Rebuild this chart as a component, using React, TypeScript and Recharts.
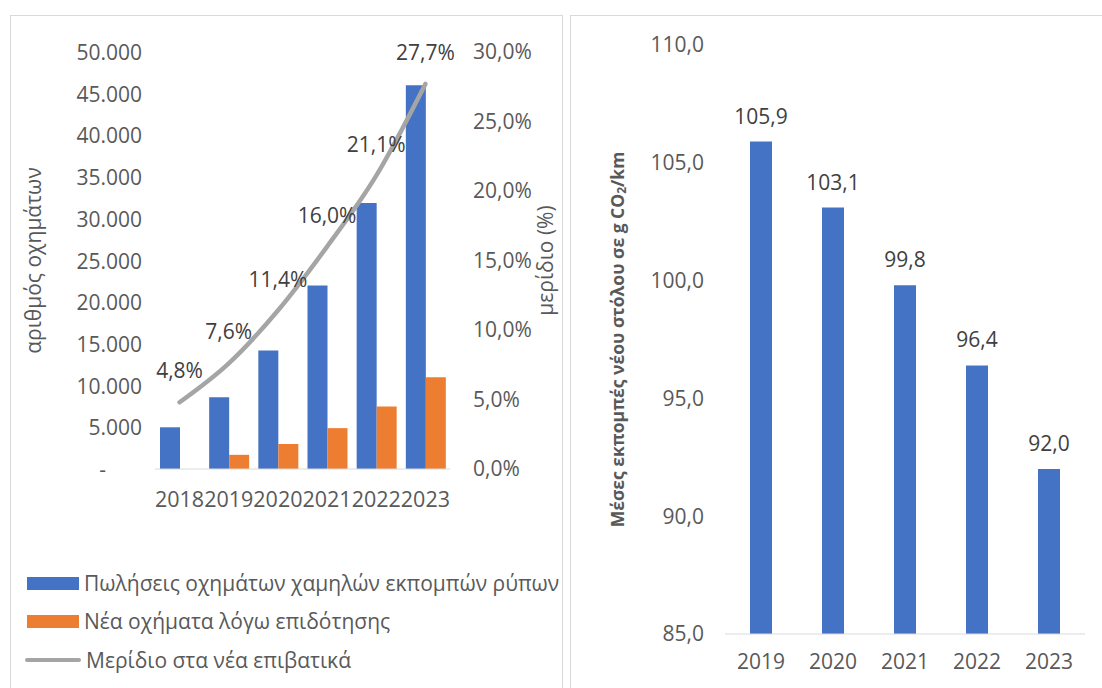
import React from 'react';
import {
  ComposedChart,
  BarChart,
  Bar,
  Line,
  XAxis,
  YAxis,
  LabelList,
} from 'recharts';

// left panel: low-emission vehicle sales + share of new passenger cars
const years = ['2018', '2019', '2020', '2021', '2022', '2023'];
const lowEmissionSales = [5000, 8600, 14200, 22000, 31900, 46000];
const subsidyVehicles = [0, 1700, 3000, 4900, 7500, 11000];
const sharePct = [4.8, 7.6, 11.4, 16.0, 21.1, 27.7];
const countTicks = [0, 5000, 10000, 15000, 20000, 25000, 30000, 35000, 40000, 45000, 50000];
const shareTicks = [0, 5, 10, 15, 20, 25, 30];

// right panel: average CO2 emissions of the new fleet
const emissionYears = ['2019', '2020', '2021', '2022', '2023'];
const avgEmissions = [105.9, 103.1, 99.8, 96.4, 92.0];
const emissionTicks = [85, 90, 95, 100, 105, 110];

const BLUE = '#4472C4';
const ORANGE = '#ED7D31';
const GRAY = '#A5A5A5';
const AXIS_TEXT = '#595959';
const LABEL_TEXT = '#404040';
const FONT = '"Open Sans", "Noto Sans", sans-serif';

const salesData = years.map((year, i) => ({
  year,
  sales: lowEmissionSales[i],
  subsidy: subsidyVehicles[i],
  share: sharePct[i],
}));

const emissionData = emissionYears.map((year, i) => ({ year, value: avgEmissions[i] }));

const fmtCount = (v: number) => String(v).replace(/\B(?=(\d{3})+(?!\d))/g, '.');
const fmtOneDec = (v: number) => Number(v).toFixed(1).replace('.', ',');
const fmtPct = (v: number) => fmtOneDec(v) + '%';

function CountTick(props: any) {
  const { x, y, payload } = props;
  const zero = payload.value === 0;
  return (
    <text
      x={zero ? x - 36 : x}
      y={y}
      textAnchor="end"
      dominantBaseline="central"
      fill={AXIS_TEXT}
      fontSize={21}
    >
      {zero ? '-' : fmtCount(payload.value)}
    </text>
  );
}

function AxisTitle(props: any) {
  const { viewBox, offsetX, fontSize = 21, bold = false, children } = props;
  const cx = viewBox.x + offsetX;
  const cy = viewBox.y + viewBox.height / 2;
  return (
    <text
      x={cx}
      y={cy}
      transform={`rotate(-90 ${cx} ${cy})`}
      textAnchor="middle"
      dominantBaseline="central"
      fill={AXIS_TEXT}
      fontSize={fontSize}
      fontWeight={bold ? 'bold' : 'normal'}
    >
      {children}
    </text>
  );
}

const legendItems = [
  { label: 'Πωλήσεις οχημάτων χαμηλών εκπομπών ρύπων', color: BLUE, kind: 'bar', top: 571 },
  { label: 'Νέα οχήματα λόγω επιδότησης', color: ORANGE, kind: 'bar', top: 609 },
  { label: 'Μερίδιο στα νέα επιβατικά', color: GRAY, kind: 'line', top: 648 },
];

const panelStyle: React.CSSProperties = {
  position: 'absolute',
  top: 15,
  border: '1px solid #D9D9D9',
  boxSizing: 'border-box',
  background: '#fff',
};

export default function App() {
  return (
    <div
      style={{
        position: 'fixed',
        left: 0,
        top: 0,
        width: 1102,
        height: 688,
        overflow: 'hidden',
        background: '#fff',
        fontFamily: FONT,
      }}
    >
      <div style={{ ...panelStyle, left: 10, width: 553, height: 700 }} />
      <div style={{ ...panelStyle, left: 570, width: 560, height: 700 }} />

      <div style={{ position: 'absolute', left: 10, top: 15 }}>
        <ComposedChart
          width={553}
          height={673}
          data={salesData}
          margin={{ top: 37, right: 0, bottom: 179, left: 0 }}
          barGap={0}
        >
          <XAxis
            dataKey="year"
            height={40}
            tickLine={false}
            tickSize={0}
            tickMargin={23}
            axisLine={{ stroke: '#D9D9D9' }}
            tick={{ fill: AXIS_TEXT, fontSize: 21.5 }}
            interval={0}
          />
          <YAxis
            yAxisId="count"
            width={145}
            domain={[0, 50000]}
            ticks={countTicks}
            axisLine={false}
            tickLine={false}
            tickSize={0}
            tickMargin={13}
            tick={<CountTick />}
            label={<AxisTitle offsetX={23}>αριθμός οχημάτων</AxisTitle>}
          />
          <YAxis
            yAxisId="share"
            orientation="right"
            width={113}
            domain={[0, 30]}
            ticks={shareTicks}
            axisLine={false}
            tickLine={false}
            tickSize={0}
            tickMargin={23}
            tick={{ fill: AXIS_TEXT, fontSize: 21, textAnchor: 'start' }}
            tickFormatter={fmtPct}
            label={<AxisTitle offsetX={95}>μερίδιο (%)</AxisTitle>}
          />
          <Bar yAxisId="count" dataKey="sales" fill={BLUE} barSize={20} isAnimationActive={false} />
          <Bar yAxisId="count" dataKey="subsidy" fill={ORANGE} barSize={20} isAnimationActive={false} />
          <Line
            yAxisId="share"
            dataKey="share"
            type="monotone"
            stroke={GRAY}
            strokeWidth={4.5}
            strokeLinecap="round"
            dot={false}
            activeDot={false}
            isAnimationActive={false}
          >
            <LabelList
              dataKey="share"
              position="top"
              offset={24}
              formatter={fmtPct}
              fill={LABEL_TEXT}
              fontSize={21}
            />
          </Line>
        </ComposedChart>
      </div>

      {legendItems.map((item) => (
        <div
          key={item.label}
          style={{
            position: 'absolute',
            left: 25,
            top: item.top,
            height: 24,
            display: 'flex',
            alignItems: 'center',
            color: AXIS_TEXT,
            fontSize: 21,
            whiteSpace: 'nowrap',
          }}
        >
          {item.kind === 'bar' ? (
            <span style={{ display: 'inline-block', width: 52, height: 13, marginLeft: 2, background: item.color }} />
          ) : (
            <span
              style={{ display: 'inline-block', width: 56, height: 4, borderRadius: 2, background: item.color }}
            />
          )}
          <span style={{ marginLeft: 5 }}>{item.label}</span>
        </div>
      ))}

      <div style={{ position: 'absolute', left: 570, top: 15 }}>
        <BarChart
          width={532}
          height={673}
          data={emissionData}
          margin={{ top: 30, right: 17, bottom: 14, left: 0 }}
        >
          <XAxis
            dataKey="year"
            height={40}
            tickLine={false}
            tickSize={0}
            tickMargin={20}
            axisLine={{ stroke: '#D9D9D9' }}
            tick={{ fill: AXIS_TEXT, fontSize: 21 }}
            interval={0}
          />
          <YAxis
            width={155}
            domain={[85, 110]}
            ticks={emissionTicks}
            axisLine={false}
            tickLine={false}
            tickSize={0}
            tickMargin={21}
            tick={{ fill: AXIS_TEXT, fontSize: 21 }}
            tickFormatter={fmtOneDec}
            label={
              <AxisTitle offsetX={47} fontSize={17.5} bold>
                Μέσες εκπομπές νέου στόλου σε g CO
                <tspan fontSize={12} dy={4}>2</tspan>
                <tspan dy={-4}>/km</tspan>
              </AxisTitle>
            }
          />
          <Bar dataKey="value" fill={BLUE} barSize={22} isAnimationActive={false}>
            <LabelList
              dataKey="value"
              position="top"
              offset={18}
              formatter={fmtOneDec}
              fill={LABEL_TEXT}
              fontSize={21}
            />
          </Bar>
        </BarChart>
      </div>
    </div>
  );
}
